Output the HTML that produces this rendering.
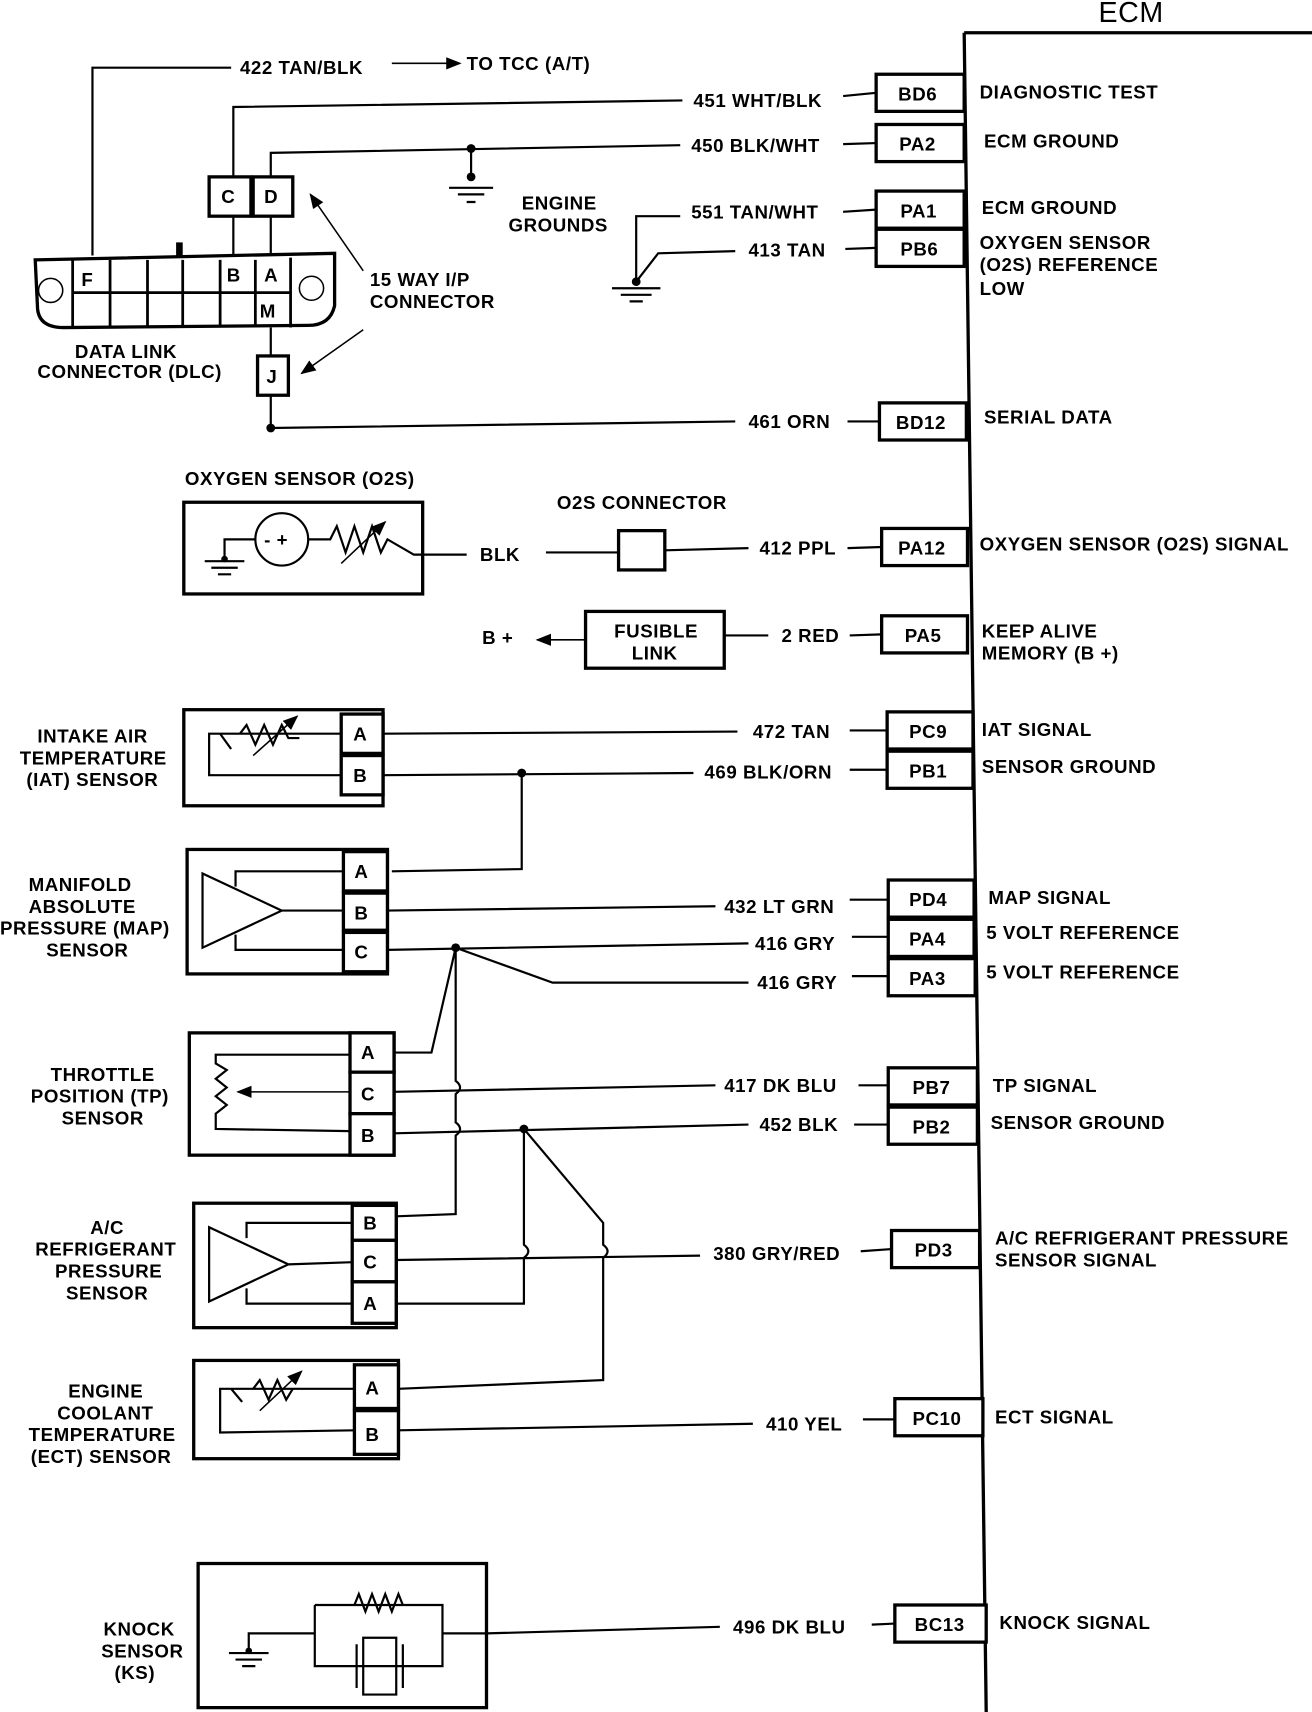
<!DOCTYPE html>
<html><head><meta charset="utf-8"><style>
html,body{margin:0;padding:0;background:#fff;}
svg{display:block;}
text{font-family:"Liberation Sans","DejaVu Sans",sans-serif;font-size:17px;font-weight:bold;fill:#000;letter-spacing:0.5px;}
.s{stroke:#000;fill:none;stroke-width:2;}
.b{stroke:#000;fill:#fff;stroke-width:3;}
.t{stroke:#000;fill:none;stroke-width:1.4;}
</style></head><body>
<svg width="1312" height="1712" viewBox="0 0 1192 1568" preserveAspectRatio="none" xmlns="http://www.w3.org/2000/svg">
<defs><marker id="ar" markerWidth="10" markerHeight="8" refX="9" refY="4" orient="auto"><path d="M0,0 L10,4 L0,8 Z" fill="#000"/></marker></defs>
<!-- ECM -->
<text x="998" y="20" style="font-size:26px;font-weight:normal">ECM</text>
<path class="s" d="M876,30 L1192,30 M876,30 L896,1568" style="stroke-width:3"/>
<!-- pin boxes -->
<g>
<rect class="b" x="796" y="68" width="80" height="34"/><text x="816" y="92">BD6</text>
<rect class="b" x="796" y="114" width="80" height="34"/><text x="817" y="138">PA2</text>
<rect class="b" x="796" y="175" width="80" height="34"/><text x="818" y="199">PA1</text>
<rect class="b" x="796" y="210" width="80" height="34"/><text x="818" y="234">PB6</text>
<rect class="b" x="799" y="369" width="79" height="34"/><text x="814" y="393">BD12</text>
<rect class="b" x="801" y="484" width="78" height="34"/><text x="816" y="508">PA12</text>
<rect class="b" x="801" y="564" width="78" height="34"/><text x="822" y="588">PA5</text>
<rect class="b" x="806" y="652" width="78" height="34"/><text x="826" y="676">PC9</text>
<rect class="b" x="806" y="688" width="78" height="34"/><text x="826" y="712">PB1</text>
<rect class="b" x="807" y="806" width="78" height="34"/><text x="826" y="830">PD4</text>
<rect class="b" x="807" y="842" width="78" height="34"/><text x="826" y="866">PA4</text>
<rect class="b" x="807" y="878" width="79" height="34"/><text x="826" y="902">PA3</text>
<rect class="b" x="807" y="978" width="81" height="34"/><text x="829" y="1002">PB7</text>
<rect class="b" x="807" y="1014" width="81" height="34"/><text x="829" y="1038">PB2</text>
<rect class="b" x="810" y="1127" width="80" height="34"/><text x="831" y="1151">PD3</text>
<rect class="b" x="813" y="1281" width="80" height="34"/><text x="829" y="1305">PC10</text>
<rect class="b" x="813" y="1470" width="83" height="34"/><text x="831" y="1494">BC13</text>
</g>
<!-- ECM labels -->
<text x="890" y="90">DIAGNOSTIC TEST</text>
<text x="894" y="135">ECM GROUND</text>
<text x="892" y="196">ECM GROUND</text>
<text x="890" y="228">OXYGEN SENSOR</text>
<text x="890" y="248">(O2S) REFERENCE</text>
<text x="890" y="270">LOW</text>
<text x="894" y="388">SERIAL DATA</text>
<text x="890" y="504">OXYGEN SENSOR (O2S) SIGNAL</text>
<text x="892" y="584">KEEP ALIVE</text>
<text x="892" y="604">MEMORY (B +)</text>
<text x="892" y="674">IAT SIGNAL</text>
<text x="892" y="708">SENSOR GROUND</text>
<text x="898" y="828">MAP SIGNAL</text>
<text x="896" y="860">5 VOLT REFERENCE</text>
<text x="896" y="896">5 VOLT REFERENCE</text>
<text x="902" y="1000">TP SIGNAL</text>
<text x="900" y="1034">SENSOR GROUND</text>
<text x="904" y="1140">A/C REFRIGERANT PRESSURE</text>
<text x="904" y="1160">SENSOR SIGNAL</text>
<text x="904" y="1304">ECT SIGNAL</text>
<text x="908" y="1492">KNOCK SIGNAL</text>
<!-- top section -->
<path class="s" d="M84,234 L84,62 L210,62"/>
<text x="218" y="68">422 TAN/BLK</text>
<line class="t" x1="356" y1="58" x2="418" y2="58" marker-end="url(#ar)"/>
<text x="424" y="64">TO TCC (A/T)</text>
<path class="s" d="M212,234 L212,198 M212,162 L212,98 L620,92 M766,88 L796,85"/>
<text x="630" y="98">451 WHT/BLK</text>
<path class="s" d="M246,234 L246,198 M246,162 L246,140 L618,133 M766,132 L796,131 M428,136 L428,162"/>
<circle cx="428" cy="136" r="4"/><circle cx="428" cy="162" r="4"/>
<path class="s" d="M408,172 L448,172 M416,178 L440,178 M424,185 L432,185"/>
<text x="628" y="139">450 BLK/WHT</text>
<rect class="b" x="190" y="162" width="38" height="36"/><text x="201" y="186">C</text>
<rect class="b" x="230" y="162" width="36" height="36"/><text x="240" y="186">D</text>
<line class="t" x1="330" y1="248" x2="282" y2="178" marker-end="url(#ar)"/>
<line class="t" x1="330" y1="302" x2="274" y2="342" marker-end="url(#ar)"/>
<text x="336" y="262">15 WAY I/P</text>
<text x="336" y="282">CONNECTOR</text>
<!-- DLC -->
<path class="b" d="M32,238 L304,232 L304,280 Q300,298 280,298 L58,300 Q34,300 34,280 Z"/>
<path class="s" d="M66,238 L66,300 M100,238 L100,300 M134,238 L134,300 M166,238 L166,300 M200,238 L200,300 M232,238 L232,300 M264,236 L264,300 M66,268 L264,268" style="stroke-width:2.5"/>
<rect x="160" y="222" width="6" height="12" fill="#000"/>
<circle class="t" cx="46" cy="266" r="11"/><circle class="t" cx="283" cy="264" r="11"/>
<text x="74" y="262">F</text><text x="206" y="258">B</text><text x="240" y="258">A</text><text x="236" y="291">M</text>
<text x="68" y="328">DATA LINK</text>
<text x="34" y="346">CONNECTOR (DLC)</text>
<path class="s" d="M246,300 L246,326 M246,362 L246,392 L668,386 M770,386 L799,386"/>
<circle cx="246" cy="392" r="4"/>
<rect class="b" x="234" y="326" width="28" height="36"/><text x="242" y="351">J</text>
<text x="680" y="392">461 ORN</text>
<text x="474" y="192">ENGINE</text>
<text x="462" y="212">GROUNDS</text>
<path class="s" d="M578,258 L578,198 L618,198 M766,194 L796,192 M578,258 L598,232 L668,230 M768,228 L796,227"/>
<circle cx="578" cy="258" r="4"/>
<path class="s" d="M556,264 L600,264 M564,270 L592,270 M572,276 L584,276"/>
<text x="628" y="200">551 TAN/WHT</text>
<text x="680" y="235">413 TAN</text>
<!-- O2S -->
<text x="168" y="444">OXYGEN SENSOR (O2S)</text>
<rect class="b" x="167" y="460" width="217" height="84"/>
<path class="s" d="M232,494 L204,494 L204,512 M186,514 L222,514 M192,520 L216,520 M198,526 L210,526"/>
<circle cx="204" cy="512" r="3"/>
<circle class="s" cx="256" cy="494" r="24"/>
<text x="240" y="500">- +</text>
<path class="s" d="M280,494 L300,494 L306,482 L314,506 L322,482 L330,506 L338,482 L346,506 L352,494 L376,508 L424,508"/>
<line class="t" x1="310" y1="516" x2="350" y2="478" marker-end="url(#ar)"/>
<text x="436" y="514">BLK</text>
<text x="506" y="466">O2S CONNECTOR</text>
<path class="s" d="M496,506 L562,506 M604,504 L680,502 M770,502 L801,501"/>
<rect class="b" x="562" y="486" width="42" height="36"/>
<text x="690" y="508">412 PPL</text>
<!-- fusible -->
<rect class="b" x="532" y="560" width="126" height="52"/>
<text x="558" y="584">FUSIBLE</text><text x="574" y="604">LINK</text>
<line class="t" x1="532" y1="586" x2="488" y2="586" marker-end="url(#ar)"/>
<text x="438" y="590">B +</text>
<path class="s" d="M658,582 L698,582 M772,582 L801,581"/>
<text x="710" y="588">2 RED</text>
<!-- IAT -->
<rect class="b" x="167" y="650" width="181" height="88"/>
<rect class="b" x="310" y="654" width="38" height="36"/><text x="321" y="678">A</text>
<rect class="b" x="310" y="692" width="38" height="36"/><text x="321" y="716">B</text>
<path class="s" d="M310,672 L190,672 L190,710 L310,710 M200,672 L210,686 M218,672 L224,664 L232,682 L240,664 L248,682 L256,664 L262,676 L272,676"/>
<line class="t" x1="230" y1="692" x2="270" y2="656" marker-end="url(#ar)"/>
<text x="34" y="680">INTAKE AIR</text>
<text x="18" y="700">TEMPERATURE</text>
<text x="24" y="720">(IAT) SENSOR</text>
<path class="s" d="M348,672 L670,670 M772,669 L806,669 M348,710 L630,708 M772,705 L806,705 M474,708 L474,796 L356,798"/>
<circle cx="474" cy="708" r="4"/>
<text x="684" y="676">472 TAN</text>
<text x="640" y="713">469 BLK/ORN</text>
<!-- MAP -->
<rect class="b" x="170" y="778" width="182" height="114"/>
<rect class="b" x="312" y="780" width="40" height="36"/><text x="322" y="804">A</text>
<rect class="b" x="312" y="818" width="40" height="34"/><text x="322" y="842">B</text>
<rect class="b" x="312" y="854" width="40" height="36"/><text x="322" y="878">C</text>
<path class="s" d="M184,800 L184,868 L256,834 Z M214,812 L214,798 L312,798 M256,834 L312,834 M214,856 L214,870 L312,870"/>
<text x="26" y="816">MANIFOLD</text>
<text x="26" y="836">ABSOLUTE</text>
<text x="0" y="856">PRESSURE (MAP)</text>
<text x="42" y="876">SENSOR</text>
<path class="s" d="M352,834 L650,830 M772,824 L807,824 M352,870 L680,864 M774,858 L807,858 M414,868 L502,900 L680,900 M774,894 L807,894"/>
<circle cx="414" cy="868" r="4"/>
<text x="658" y="836">432 LT GRN</text>
<text x="686" y="870">416 GRY</text>
<text x="688" y="906">416 GRY</text>
<!-- TP -->
<rect class="b" x="172" y="946" width="186" height="112"/>
<rect class="b" x="318" y="946" width="40" height="36"/><text x="328" y="970">A</text>
<rect class="b" x="318" y="982" width="40" height="38"/><text x="328" y="1008">C</text>
<rect class="b" x="318" y="1020" width="40" height="38"/><text x="328" y="1046">B</text>
<path class="s" d="M318,966 L196,966 L196,974 L206,980 L196,988 L206,996 L196,1004 L206,1012 L196,1020 L196,1034 L318,1036"/>
<line class="t" x1="318" y1="1000" x2="216" y2="1000" marker-end="url(#ar)"/>
<text x="46" y="990">THROTTLE</text>
<text x="28" y="1010">POSITION (TP)</text>
<text x="56" y="1030">SENSOR</text>
<path class="s" d="M358,964 L392,964 L414,868 M358,1000 L650,994 M780,994 L807,994 M358,1038 L680,1030 M776,1030 L807,1030"/>
<path class="s" d="M414,868 L414,990 Q422,996 414,1002 L414,1028 Q422,1034 414,1040 L414,1112 L360,1114"/>
<circle cx="476" cy="1034" r="4"/>
<path class="s" d="M476,1034 L476,1140 Q484,1146 476,1152 L476,1194 L360,1194 M476,1034 L548,1120 L548,1140 Q556,1146 548,1152 L548,1264 L362,1272"/>
<text x="658" y="1000">417 DK BLU</text>
<text x="690" y="1036">452 BLK</text>
<!-- A/C -->
<rect class="b" x="176" y="1102" width="184" height="114"/>
<rect class="b" x="320" y="1104" width="40" height="32"/><text x="330" y="1126">B</text>
<rect class="b" x="320" y="1136" width="40" height="38"/><text x="330" y="1162">C</text>
<rect class="b" x="320" y="1174" width="40" height="38"/><text x="330" y="1200">A</text>
<path class="s" d="M190,1124 L190,1192 L262,1158 Z M224,1134 L224,1120 L320,1120 M262,1158 L320,1156 M224,1180 L224,1194 L320,1194"/>
<text x="82" y="1130">A/C</text>
<text x="32" y="1150">REFRIGERANT</text>
<text x="50" y="1170">PRESSURE</text>
<text x="60" y="1190">SENSOR</text>
<path class="s" d="M360,1154 L636,1150 M782,1146 L810,1144"/>
<text x="648" y="1154">380 GRY/RED</text>
<!-- ECT -->
<rect class="b" x="176" y="1246" width="186" height="90"/>
<rect class="b" x="322" y="1250" width="40" height="40"/><text x="332" y="1277">A</text>
<rect class="b" x="322" y="1292" width="40" height="40"/><text x="332" y="1320">B</text>
<path class="s" d="M322,1272 L200,1272 L200,1312 L322,1310 M210,1272 L220,1284 M230,1272 L236,1264 L244,1282 L252,1264 L260,1282 L266,1272 L282,1272"/>
<line class="t" x1="236" y1="1292" x2="274" y2="1256" marker-end="url(#ar)"/>
<text x="62" y="1280">ENGINE</text>
<text x="52" y="1300">COOLANT</text>
<text x="26" y="1320">TEMPERATURE</text>
<text x="28" y="1340">(ECT) SENSOR</text>
<path class="s" d="M362,1310 L684,1304 M784,1300 L813,1300"/>
<text x="696" y="1310">410 YEL</text>
<!-- KS -->
<rect class="b" x="180" y="1432" width="262" height="132"/>
<path class="s" d="M286,1496 L226,1496 L226,1512 M208,1514 L244,1514 M214,1520 L238,1520 M220,1526 L232,1526"/>
<circle cx="226" cy="1512" r="3"/>
<path class="s" d="M286,1470 L286,1526 L402,1526 L402,1470 L286,1470 M322,1470 L326,1460 L332,1476 L338,1460 L344,1476 L350,1460 L356,1476 L362,1460 L366,1470 M322,1526 L322,1526 M314,1526 L322,1526 M324,1506 L324,1546 M330,1500 L360,1500 L360,1552 L330,1552 Z M366,1506 L366,1546 M286,1526 L286,1526"/>
<path class="s" d="M402,1496 L442,1496 M442,1496 L654,1490 M792,1488 L813,1487"/>
<text x="94" y="1498">KNOCK</text>
<text x="92" y="1518">SENSOR</text>
<text x="104" y="1538">(KS)</text>
<text x="666" y="1496">496 DK BLU</text>
</svg>
</body></html>
